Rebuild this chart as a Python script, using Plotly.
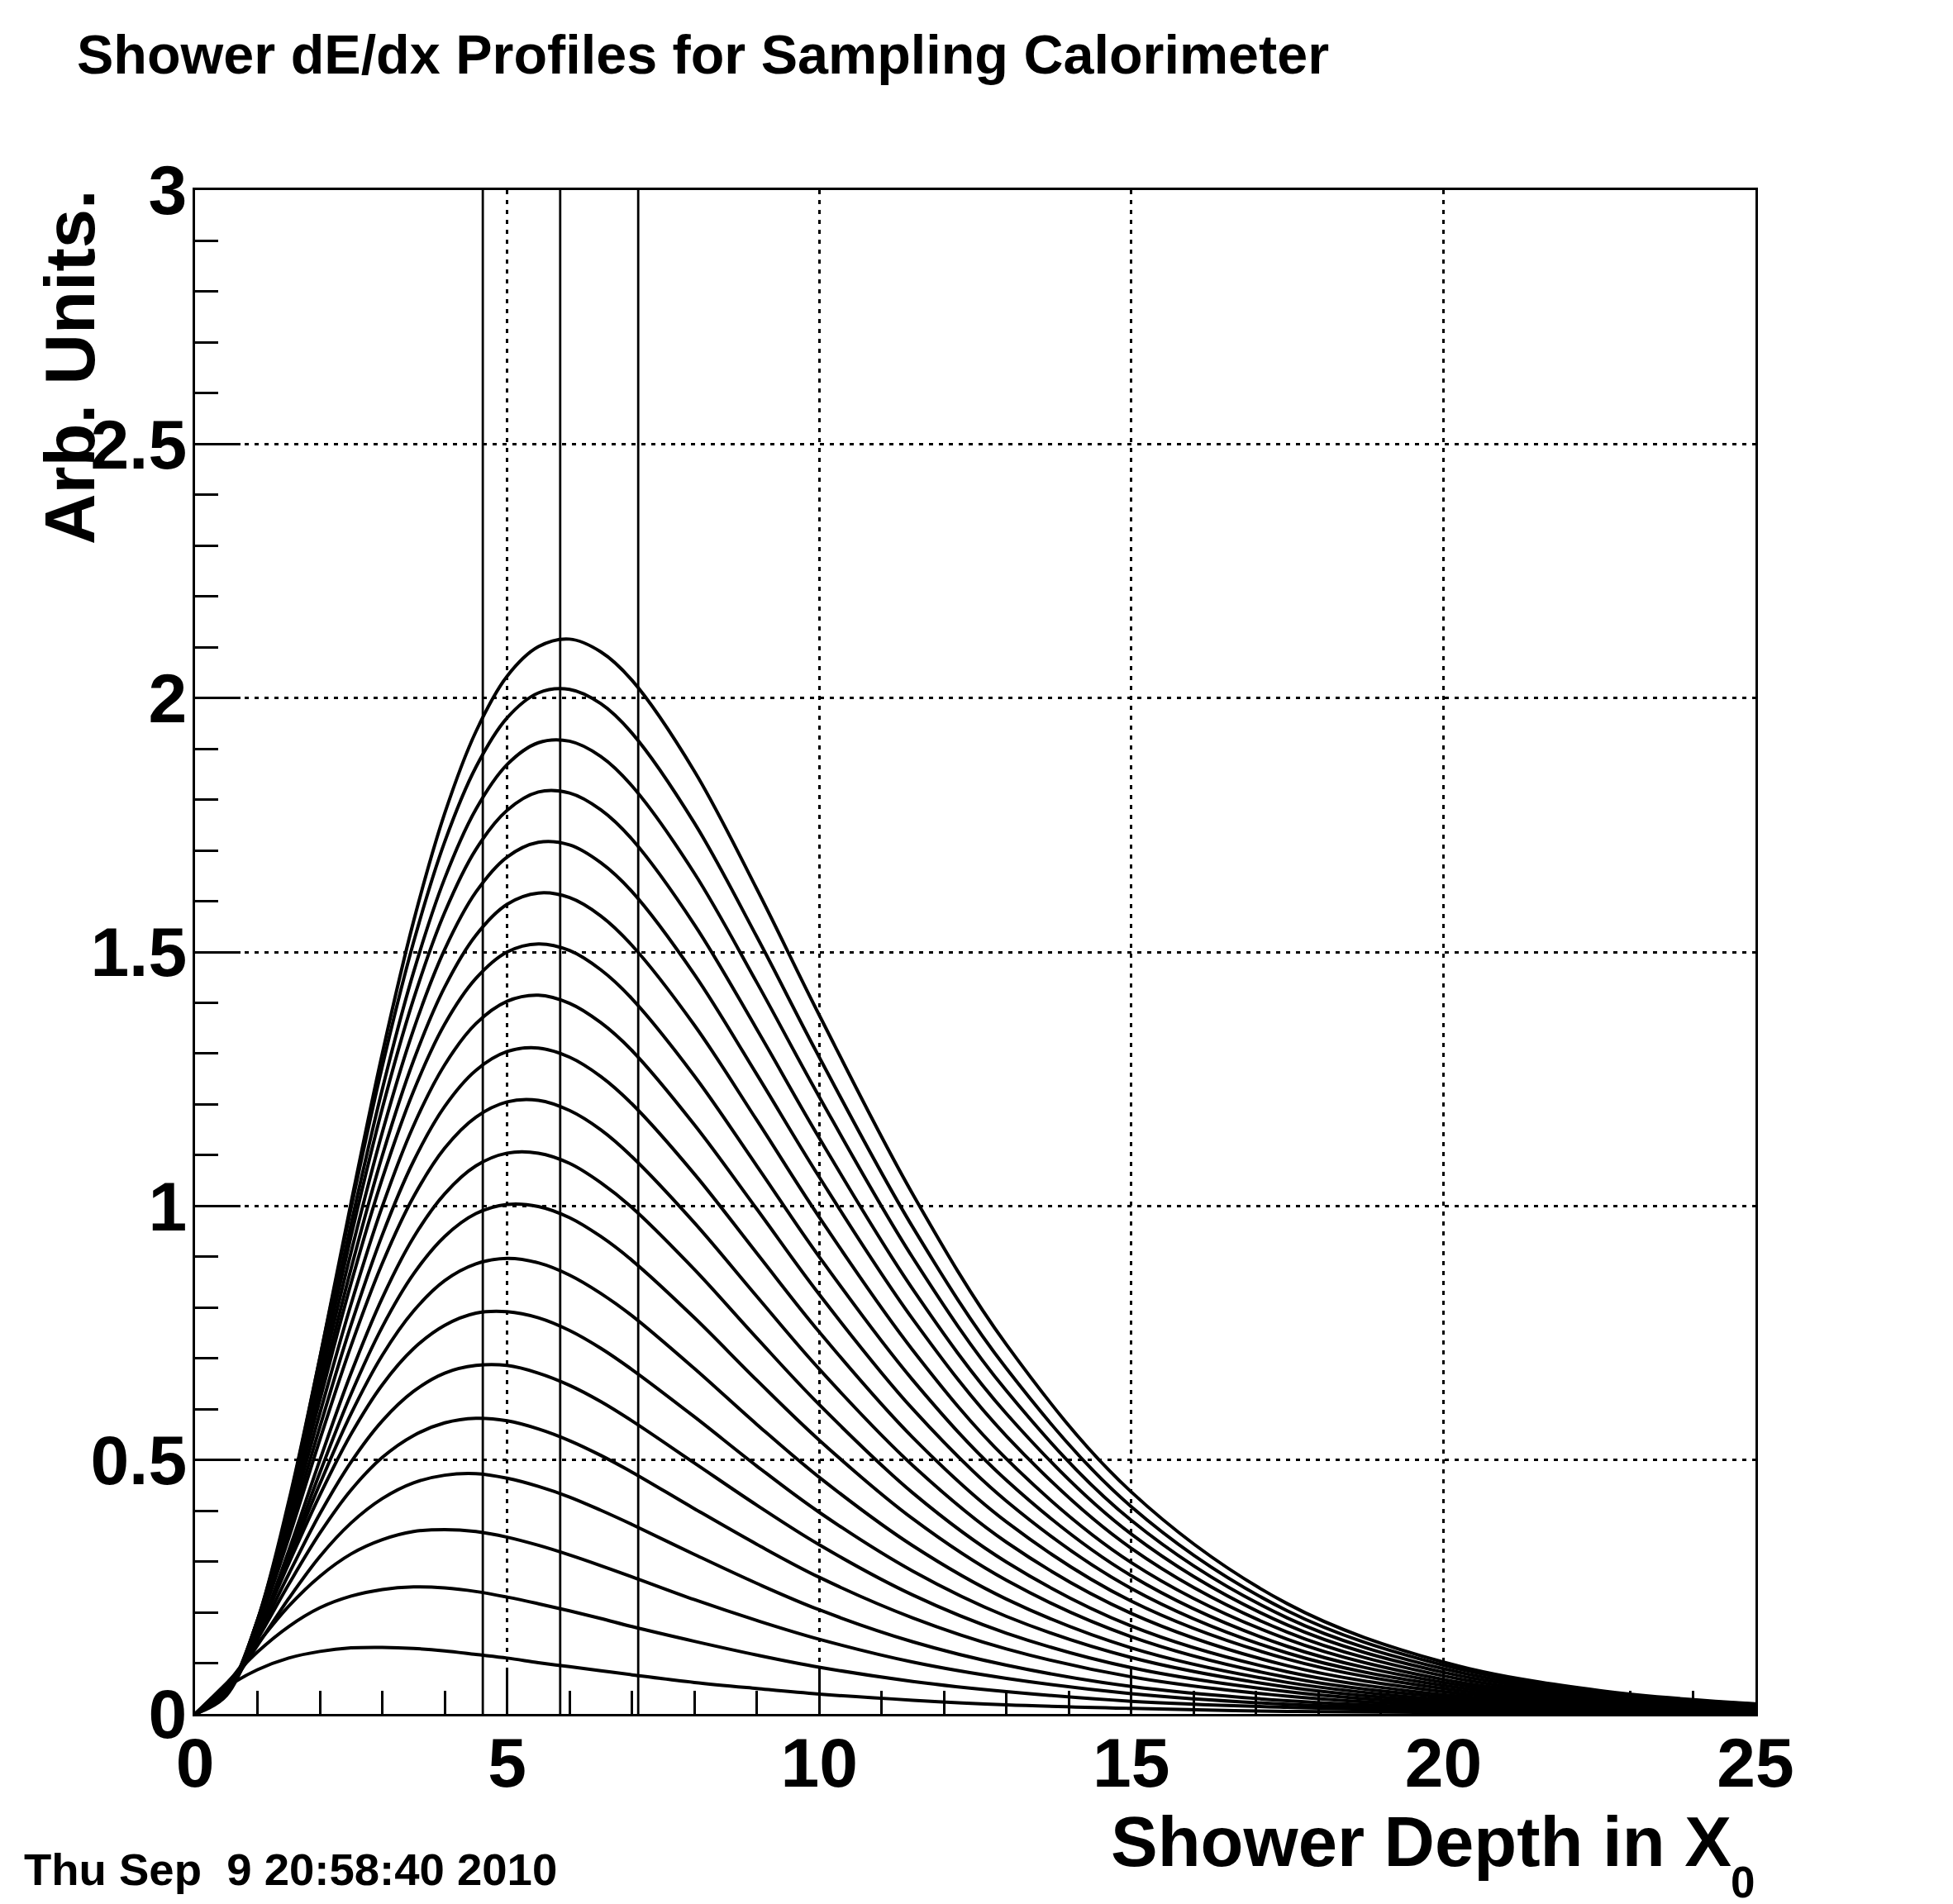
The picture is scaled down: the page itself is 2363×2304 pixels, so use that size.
import plotly.graph_objects as go

# Shower depth sample positions (radiation lengths X0)
depth = [0, 0.5, 1, 1.5, 2, 2.5, 3, 3.5, 4, 4.5, 5, 5.5, 6, 6.5, 7, 8, 9, 10, 11.5, 13, 15, 17.5, 20, 22.5, 25]

# dE/dx profiles (arb. units), one list per shower energy step
p01 = [0.000, 0.052, 0.087, 0.110, 0.123, 0.130, 0.131, 0.129, 0.124, 0.117, 0.110, 0.101, 0.093, 0.085, 0.077, 0.062, 0.050, 0.039, 0.027, 0.018, 0.011, 0.005, 0.003, 0.001, 0.001]
p02 = [0.000, 0.060, 0.122, 0.172, 0.209, 0.232, 0.245, 0.250, 0.248, 0.241, 0.230, 0.217, 0.203, 0.188, 0.172, 0.143, 0.116, 0.092, 0.064, 0.044, 0.025, 0.013, 0.006, 0.003, 0.001]
p03 = [0.000, 0.058, 0.138, 0.212, 0.271, 0.315, 0.343, 0.359, 0.363, 0.359, 0.348, 0.332, 0.313, 0.292, 0.270, 0.225, 0.184, 0.147, 0.102, 0.070, 0.040, 0.019, 0.009, 0.004, 0.002]
p04 = [0.000, 0.048, 0.135, 0.227, 0.310, 0.376, 0.424, 0.455, 0.470, 0.473, 0.464, 0.448, 0.427, 0.401, 0.373, 0.314, 0.257, 0.205, 0.142, 0.096, 0.054, 0.026, 0.012, 0.005, 0.002]
p05 = [0.000, 0.049, 0.147, 0.255, 0.356, 0.441, 0.505, 0.548, 0.573, 0.582, 0.577, 0.561, 0.538, 0.509, 0.476, 0.404, 0.334, 0.269, 0.189, 0.128, 0.073, 0.035, 0.016, 0.007, 0.003]
p06 = [0.000, 0.048, 0.152, 0.275, 0.394, 0.496, 0.577, 0.635, 0.671, 0.686, 0.686, 0.671, 0.647, 0.615, 0.577, 0.494, 0.411, 0.333, 0.234, 0.159, 0.091, 0.044, 0.020, 0.009, 0.004]
p07 = [0.000, 0.048, 0.159, 0.296, 0.431, 0.551, 0.648, 0.719, 0.765, 0.789, 0.792, 0.780, 0.755, 0.720, 0.678, 0.585, 0.488, 0.397, 0.281, 0.192, 0.111, 0.053, 0.024, 0.011, 0.005]
p08 = [0.000, 0.044, 0.157, 0.303, 0.453, 0.591, 0.706, 0.793, 0.853, 0.886, 0.897, 0.888, 0.864, 0.828, 0.784, 0.680, 0.570, 0.466, 0.331, 0.226, 0.130, 0.062, 0.028, 0.012, 0.005]
p09 = [0.000, 0.041, 0.155, 0.310, 0.475, 0.630, 0.762, 0.866, 0.940, 0.985, 1.003, 0.999, 0.977, 0.940, 0.893, 0.780, 0.657, 0.539, 0.384, 0.263, 0.152, 0.072, 0.033, 0.014, 0.006]
p10 = [0.000, 0.040, 0.158, 0.321, 0.500, 0.671, 0.819, 0.938, 1.024, 1.079, 1.104, 1.104, 1.084, 1.046, 0.997, 0.875, 0.740, 0.609, 0.435, 0.299, 0.173, 0.083, 0.038, 0.017, 0.007]
p11 = [0.000, 0.043, 0.170, 0.346, 0.540, 0.725, 0.887, 1.018, 1.114, 1.175, 1.205, 1.208, 1.188, 1.150, 1.097, 0.967, 0.822, 0.679, 0.489, 0.338, 0.198, 0.095, 0.044, 0.019, 0.008]
p12 = [0.000, 0.043, 0.173, 0.359, 0.565, 0.766, 0.943, 1.088, 1.196, 1.267, 1.304, 1.311, 1.293, 1.255, 1.201, 1.063, 0.907, 0.752, 0.544, 0.378, 0.222, 0.108, 0.050, 0.022, 0.010]
p13 = [0.000, 0.043, 0.178, 0.373, 0.592, 0.807, 0.999, 1.158, 1.278, 1.359, 1.403, 1.415, 1.399, 1.361, 1.306, 1.160, 0.994, 0.826, 0.600, 0.419, 0.247, 0.120, 0.056, 0.025, 0.011]
p14 = [0.000, 0.044, 0.183, 0.387, 0.618, 0.848, 1.054, 1.226, 1.358, 1.448, 1.500, 1.516, 1.503, 1.465, 1.408, 1.256, 1.079, 0.900, 0.657, 0.460, 0.272, 0.133, 0.062, 0.028, 0.012]
p15 = [0.000, 0.042, 0.182, 0.392, 0.634, 0.877, 1.099, 1.286, 1.431, 1.533, 1.594, 1.616, 1.607, 1.571, 1.513, 1.356, 1.169, 0.978, 0.716, 0.502, 0.298, 0.147, 0.068, 0.031, 0.013]
p16 = [0.000, 0.041, 0.183, 0.400, 0.653, 0.909, 1.145, 1.347, 1.505, 1.618, 1.687, 1.716, 1.711, 1.676, 1.619, 1.456, 1.259, 1.057, 0.777, 0.547, 0.326, 0.161, 0.075, 0.034, 0.015]
p17 = [0.000, 0.041, 0.185, 0.408, 0.671, 0.941, 1.192, 1.407, 1.578, 1.702, 1.779, 1.815, 1.813, 1.780, 1.722, 1.554, 1.348, 1.134, 0.836, 0.591, 0.354, 0.175, 0.082, 0.037, 0.016]
p18 = [0.000, 0.039, 0.183, 0.410, 0.683, 0.965, 1.230, 1.460, 1.645, 1.781, 1.869, 1.912, 1.915, 1.885, 1.827, 1.655, 1.440, 1.215, 0.898, 0.636, 0.381, 0.189, 0.089, 0.040, 0.018]
p19 = [0.000, 0.039, 0.185, 0.418, 0.701, 0.996, 1.275, 1.519, 1.717, 1.864, 1.961, 2.010, 2.017, 1.989, 1.931, 1.754, 1.530, 1.293, 0.958, 0.680, 0.408, 0.203, 0.096, 0.043, 0.019]
p20 = [0.000, 0.036, 0.178, 0.413, 0.701, 1.007, 1.300, 1.560, 1.773, 1.934, 2.043, 2.101, 2.116, 2.091, 2.035, 1.856, 1.624, 1.376, 1.023, 0.727, 0.437, 0.217, 0.102, 0.046, 0.020]

profiles = [p01, p02, p03, p04, p05, p06, p07, p08, p09, p10,
            p11, p12, p13, p14, p15, p16, p17, p18, p19, p20]

# Vertical marker lines (shower depth, X0)
marker_depths = [4.61, 5.85, 7.10]

# Axis ticks
x_ticks = [0, 5, 10, 15, 20, 25]
y_ticks = [0, 0.5, 1, 1.5, 2, 2.5, 3]

title_text = "Shower dE/dx Profiles for Sampling Calorimeter"
x_title = "Shower Depth in X"
x_title_sub = "0"
y_title = "Arb. Units."
date_text = "Thu Sep\u00a0 9 20:58:40 2010"

FONT = "Liberation Sans, Arial, Helvetica, sans-serif"
W, H = 2363, 2304
L, R, T, B = 236, 239, 230, 230
PW, PH = W - L - R, H - T - B


def px(xpix):
    return (xpix - L) / PW


def py(ypix):
    return (H - B - ypix) / PH


fig = go.Figure()

for xv in marker_depths:
    fig.add_trace(go.Scatter(x=[xv, xv], y=[y_ticks[0], y_ticks[-1]], mode="lines",
                             line=dict(color="black", width=2.8), hoverinfo="skip",
                             showlegend=False))

for prof in profiles:
    fig.add_trace(go.Scatter(x=depth, y=prof, mode="lines",
                             line=dict(color="black", width=4, shape="spline", smoothing=1.0),
                             showlegend=False))

axis_common = dict(
    showline=True, linewidth=3, linecolor="black", mirror=True,
    ticks="inside", tickwidth=3, tickcolor="black", ticklen=55,
    showgrid=True, gridcolor="black", gridwidth=3, griddash="5px,7px",
    zeroline=False, automargin=False,
    tickfont=dict(family=FONT, size=84, color="black", weight="bold"),
)

fig.update_xaxes(range=[x_ticks[0], x_ticks[-1]], tickvals=x_ticks,
                 minor=dict(ticks="inside", ticklen=28, tickwidth=3, tickcolor="black",
                            dtick=1, tick0=0, showgrid=False),
                 ticklabelstandoff=-16, **axis_common)
fig.update_yaxes(range=[y_ticks[0], y_ticks[-1]], tickvals=y_ticks,
                 minor=dict(ticks="inside", ticklen=28, tickwidth=3, tickcolor="black",
                            dtick=0.1, tick0=0, showgrid=False),
                 ticklabelstandoff=-10, **axis_common)

annotations = [
    dict(text=title_text, x=px(91), y=py(66), xanchor="left", yanchor="middle",
         font=dict(family=FONT, size=66.5, color="black", weight="bold")),
    dict(text=y_title, x=px(84), y=py(227), xanchor="center", yanchor="top", textangle=-90,
         font=dict(family=FONT, size=85, color="black", weight="bold")),
    dict(text=x_title, x=px(2097), y=py(2228), xanchor="right", yanchor="middle",
         font=dict(family=FONT, size=85, color="black", weight="bold")),
    dict(text=x_title_sub, x=px(2108), y=py(2277), xanchor="center", yanchor="middle",
         font=dict(family=FONT, size=53, color="black", weight="bold")),
    dict(text=date_text, x=px(27), y=py(2262), xanchor="left", yanchor="middle",
         font=dict(family=FONT, size=54.5, color="black", weight="bold")),
]
for a in annotations:
    a.update(xref="paper", yref="paper", showarrow=False)

fig.update_layout(
    width=W, height=H,
    margin=dict(l=L, r=R, t=T, b=B),
    paper_bgcolor="white", plot_bgcolor="white",
    annotations=annotations,
    showlegend=False,
)

fig.write_html("out.html",
               config={"displayModeBar": False, "staticPlot": True},
               post_script="document.body.style.margin='0px';document.body.style.padding='0px';document.body.style.overflow='hidden';")
